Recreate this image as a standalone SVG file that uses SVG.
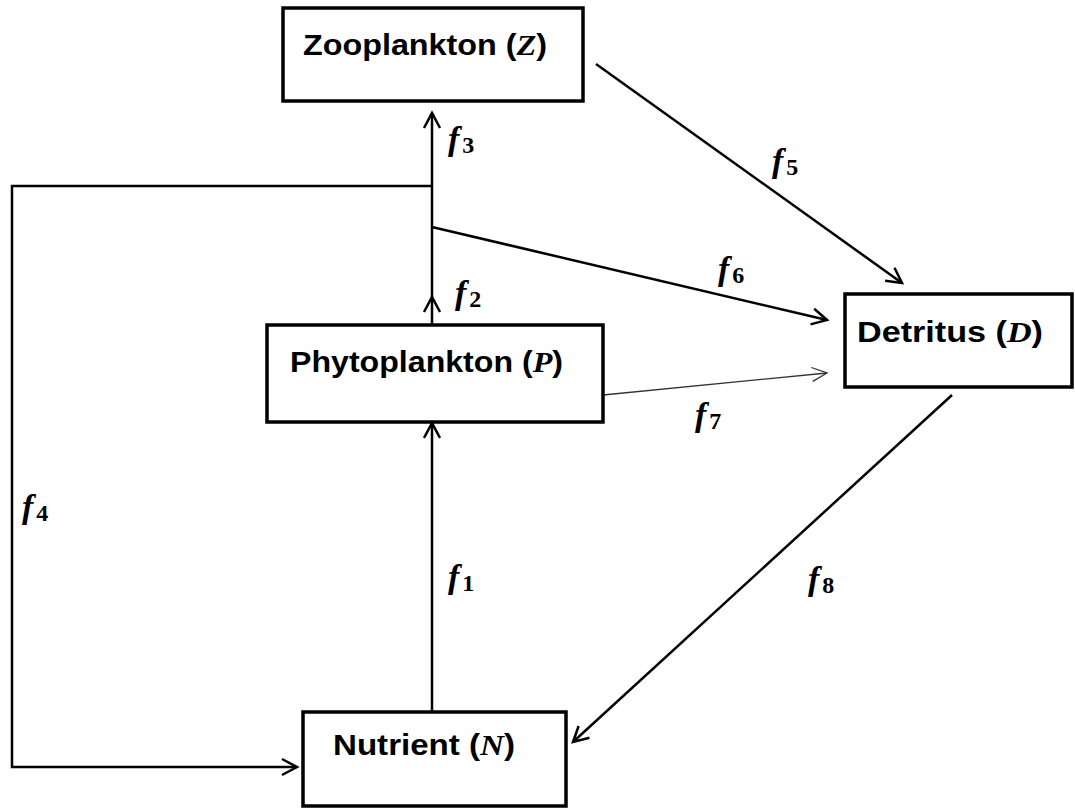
<svg xmlns="http://www.w3.org/2000/svg" width="1075" height="809" viewBox="0 0 1075 809">
<style>
.box{fill:#fff;stroke:#000;stroke-width:3.5}
.lbl{font-family:"Liberation Sans",Arial,sans-serif;font-weight:bold;font-size:30px;fill:#000}
.var{font-family:"Liberation Serif","Times New Roman",serif;font-style:italic;font-weight:bold}
.c{stroke:#000;stroke-width:2.5;fill:none}
.thin{stroke:#333;stroke-width:1.3;fill:none}
.f{font-family:"Liberation Serif","Times New Roman",serif;font-style:italic;font-weight:bold;font-size:34px;fill:#000}
.sub{font-style:normal;font-weight:bold;font-size:24px}
</style>
<defs>
<marker id="ah" markerUnits="userSpaceOnUse" markerWidth="20" markerHeight="20" viewBox="0 0 20 20" refX="17" refY="10" orient="auto">
<path d="M2,2 L17,10 L2,18" fill="none" stroke="#000" stroke-width="2.5"/>
</marker>
<marker id="aht" markerUnits="userSpaceOnUse" markerWidth="20" markerHeight="20" viewBox="0 0 20 20" refX="17" refY="10" orient="auto">
<path d="M2,3 L17,10 L2,17" fill="none" stroke="#333" stroke-width="1.3"/>
</marker>
</defs>
<g id="connectors">
<line class="c" x1="432" y1="712" x2="432" y2="423" marker-end="url(#ah)"/>
<line class="c" x1="432" y1="325" x2="432" y2="297" marker-end="url(#ah)"/>
<line class="c" x1="432" y1="297" x2="432" y2="113" marker-end="url(#ah)"/>
<polyline class="c" points="432,186 12,186 12,767 297,767" marker-end="url(#ah)"/>
<line class="c" x1="596" y1="64" x2="902" y2="283" marker-end="url(#ah)"/>
<line class="c" x1="432" y1="227" x2="827" y2="320" marker-end="url(#ah)"/>
<line class="thin" x1="603" y1="395" x2="827" y2="373" marker-end="url(#aht)"/>
<line class="c" x1="952" y1="395" x2="573" y2="742" marker-end="url(#ah)"/>
</g>
<g id="labels">
<text class="f" x="448" y="150">f<tspan class="sub" dx="3" dy="3">3</tspan></text>
<text class="f" x="455" y="304">f<tspan class="sub" dx="3" dy="3">2</tspan></text>
<text class="f" x="448" y="588">f<tspan class="sub" dx="3" dy="3">1</tspan></text>
<text class="f" x="22" y="518">f<tspan class="sub" dx="3" dy="3">4</tspan></text>
<text class="f" x="772" y="172">f<tspan class="sub" dx="3" dy="3">5</tspan></text>
<text class="f" x="718" y="280">f<tspan class="sub" dx="3" dy="3">6</tspan></text>
<text class="f" x="695" y="426">f<tspan class="sub" dx="3" dy="3">7</tspan></text>
<text class="f" x="808" y="590">f<tspan class="sub" dx="3" dy="3">8</tspan></text>
</g>
<g id="zooplankton">
<rect class="box" x="283" y="8" width="300" height="93"/>
<text class="lbl" x="303" y="55" textLength="244" lengthAdjust="spacingAndGlyphs">Zooplankton (<tspan class="var">Z</tspan>)</text>
</g>
<g id="phytoplankton">
<rect class="box" x="267" y="325" width="336" height="97"/>
<text class="lbl" x="290" y="372" textLength="273" lengthAdjust="spacingAndGlyphs">Phytoplankton (<tspan class="var">P</tspan>)</text>
</g>
<g id="detritus">
<rect class="box" x="845" y="294" width="227" height="93"/>
<text class="lbl" x="857" y="342" textLength="186" lengthAdjust="spacingAndGlyphs">Detritus (<tspan class="var">D</tspan>)</text>
</g>
<g id="nutrient">
<rect class="box" x="303" y="712" width="263" height="94"/>
<text class="lbl" x="333" y="755" textLength="182" lengthAdjust="spacingAndGlyphs">Nutrient (<tspan class="var">N</tspan>)</text>
</g>
</svg>
